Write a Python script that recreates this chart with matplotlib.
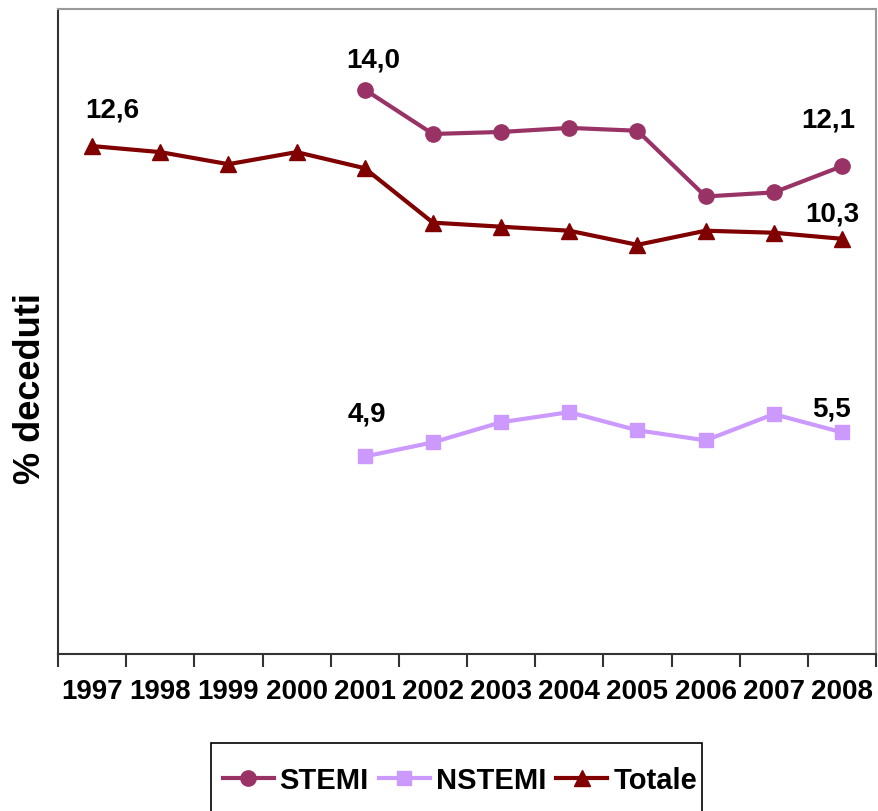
import matplotlib.pyplot as plt
from matplotlib.patches import Rectangle

plt.rcParams['font.family'] = ['Liberation Sans', 'DejaVu Sans']
plt.rcParams['font.weight'] = 'bold'

# yearly mortality (% deceduti)
years = ['1997', '1998', '1999', '2000', '2001', '2002', '2003', '2004', '2005', '2006', '2007', '2008']
totale = [12.6, 12.45, 12.15, 12.45, 12.05, 10.7, 10.6, 10.5, 10.15, 10.5, 10.45, 10.3]
stemi_years = years[4:]
stemi = [14.0, 12.9, 12.95, 13.05, 12.98, 11.35, 11.45, 12.1]
nstemi = [4.9, 5.25, 5.75, 6.0, 5.55, 5.3, 5.95, 5.5]

# values written next to the first and last points
labels_stemi = {'2001': '14,0', '2008': '12,1'}
labels_nstemi = {'2001': '4,9', '2008': '5,5'}
labels_totale = {'1997': '12,6', '2008': '10,3'}

fig = plt.figure(figsize=(8.79, 8.12), dpi=100)
ax = fig.add_axes([0.066, 0.1933, 0.9306, 0.7944])

x_all = list(range(len(years)))
x_late = [years.index(y) for y in stemi_years]

ax.plot(x_late, stemi, color='#993366', lw=3, marker='o', ms=11, label='STEMI')
ax.plot(x_late, nstemi, color='#CC99FF', lw=3, marker='s', ms=10, label='NSTEMI')
ax.plot(x_all, totale, color='#800000', lw=3, marker='^', ms=11, label='Totale')

# data labels
def put_labels(labels, xs, ys, offsets):
    for yr, txt in labels.items():
        i = [years[k] for k in xs].index(yr)
        dx, dy = offsets[yr]
        ax.annotate(txt, (xs[i], ys[i]), xytext=(dx, dy), textcoords='offset pixels',
                    ha='center', va='center', fontsize=20, fontweight='bold')

put_labels(labels_totale, x_all, totale, {'1997': (20, 37), '2008': (-10, 25)})
put_labels(labels_stemi, x_late, stemi, {'2001': (8, 30), '2008': (-14, 47)})
put_labels(labels_nstemi, x_late, nstemi, {'2001': (2, 43), '2008': (-10, 24)})

ax.set_xlim(-0.5, len(years) - 0.5)
ax.set_ylim(0, 16)
ax.set_yticks([])

# ticks between categories, labels centred on each year
ax.set_xticks([i - 0.5 for i in range(len(years) + 1)])
ax.set_xticklabels([])
ax.set_xticks(x_all, minor=True)
ax.set_xticklabels(years, minor=True, fontsize=20, fontweight='bold')
ax.tick_params(axis='x', which='major', direction='out', length=9, width=1.5, color='#333333')
ax.tick_params(axis='x', which='minor', length=0, pad=17)

ax.set_ylabel('% deceduti', fontsize=26, fontweight='bold')
ax.yaxis.set_label_coords(-0.012, 0.413)

for side in ['left', 'bottom']:
    ax.spines[side].set_color('#333333')
    ax.spines[side].set_linewidth(1.5)
for side in ['top', 'right']:
    ax.spines[side].set_color('#999999')
    ax.spines[side].set_linewidth(1.5)

leg = fig.legend(loc='center', bbox_to_anchor=(0.523, 0.038), ncol=3,
                 fontsize=21, frameon=False,
                 handlelength=1.75, handletextpad=0.2, columnspacing=0.35,
                 borderpad=0, borderaxespad=0)

# legend box runs off the bottom edge
fig.patches.append(Rectangle((0.240, -0.05), 0.559, 0.1337, transform=fig.transFigure,
                             facecolor='none', edgecolor='black', lw=1.2))

plt.savefig('out.png', dpi=100)
